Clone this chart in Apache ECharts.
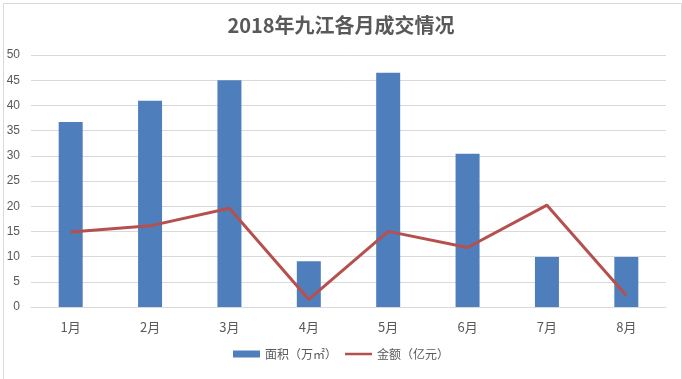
<!DOCTYPE html>
<html><head><meta charset="utf-8">
<script src="https://cdn.jsdelivr.net/npm/echarts@6/dist/echarts.min.js"></script>
<style>html,body{margin:0;padding:0;background:#fff}#c{width:682px;height:379px}</style>
</head><body><div id="c"></div>
<script>
var categories = ['1月','2月','3月','4月','5月','6月','7月','8月'];
var areaValues = [36.7, 40.9, 45.0, 9.1, 46.5, 30.4, 9.9, 9.9];
var amountValues = [14.9, 16.1, 19.6, 1.5, 15.0, 11.8, 20.2, 2.3];
var yTicks = [0, 50, 5];

var lineIcon = 'path://M0,0 L0.01,0 L0.01,0.01 Z M0,2.3 L28,2.3 L28,4.7 L0,4.7 Z M0,7 L0.01,7 L0.01,6.99 Z';

var chart = echarts.init(document.getElementById('c'));
chart.setOption({
  backgroundColor: '#fff',
  animation: false,
  title: {
    text: '2018年九江各月成交情况',
    left: 'center', top: 10,
    textStyle: {fontSize: 20, fontWeight: 'bold', color: '#595959', fontFamily: 'Noto Sans CJK SC'}
  },
  graphic: [{
    type: 'rect', left: 1, top: 1,
    shape: {x: 0, y: 0, width: 678, height: 376},
    style: {fill: 'none', stroke: '#d9d9d9', lineWidth: 1},
    silent: true
  }],
  legend: {
    bottom: 14, left: 'center',
    itemWidth: 27, itemHeight: 7, itemGap: 8,
    textStyle: {fontSize: 12, color: '#595959', fontFamily: 'Noto Sans CJK SC'},
    data: [{name: '面积（万㎡）', icon: 'rect'}, {name: '金额（亿元）', icon: lineIcon}]
  },
  grid: {left: 31, right: 16, top: 55, bottom: 72},
  xAxis: {
    type: 'category', data: categories,
    axisLine: {lineStyle: {color: '#d9d9d9'}},
    axisTick: {show: false},
    axisLabel: {fontSize: 13, color: '#595959', margin: 14, fontFamily: 'Noto Sans CJK SC'}
  },
  yAxis: {
    type: 'value', min: yTicks[0], max: yTicks[1], interval: yTicks[2],
    axisLine: {show: false}, axisTick: {show: false},
    splitLine: {lineStyle: {color: '#d9d9d9'}},
    axisLabel: {fontSize: 12, color: '#595959', margin: 11}
  },
  series: [{
    name: '面积（万㎡）', type: 'bar', data: areaValues,
    barWidth: 24,
    itemStyle: {color: '#4F7EBD'}
  }, {
    name: '金额（亿元）', type: 'line', data: amountValues,
    symbol: 'none',
    lineStyle: {color: '#B5504E', width: 3},
    itemStyle: {color: '#B5504E'}
  }]
});
</script></body></html>
